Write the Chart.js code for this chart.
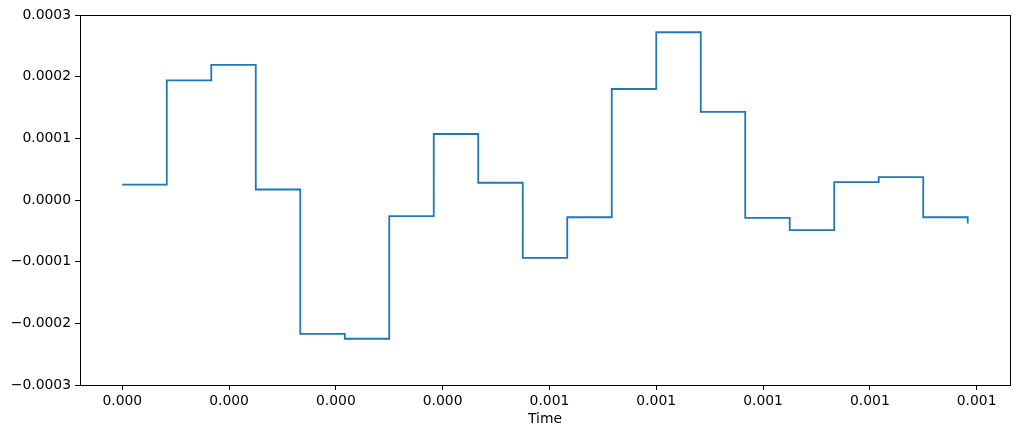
<!DOCTYPE html>
<html>
<head>
<meta charset="utf-8">
<script src="https://cdn.jsdelivr.net/npm/chart.js@4/dist/chart.umd.min.js"></script>
<style>
  body { margin: 0; background: #fff; }
  canvas { display: block; }
</style>
</head>
<body>
<canvas id="stepChart" width="1019" height="438"></canvas>
<script>
// sample times (s) and signal values
const times = [0, 0.0000625, 0.000125, 0.0001875, 0.00025, 0.0003125, 0.000375, 0.0004375,
  0.0005, 0.0005625, 0.000625, 0.0006875, 0.00075, 0.0008125, 0.000875, 0.0009375,
  0.001, 0.0010625, 0.001125, 0.0011875];
const values = [0.000025, 0.000194, 0.000219, 0.000017, -0.000217, -0.000225, -0.000026, 0.000107,
  0.000028, -0.000094, -0.000028, 0.000180, 0.000272, 0.000143, -0.000029, -0.000049,
  0.000029, 0.000037, -0.000028, -0.000038];

const xTickValues = [0, 0.00015, 0.0003, 0.00045, 0.0006, 0.00075, 0.0009, 0.00105, 0.0012];
const xTickLabels = ['0.000', '0.000', '0.000', '0.000', '0.001', '0.001', '0.001', '0.001', '0.001'];
const yTickValues = [-0.0003, -0.0002, -0.0001, 0, 0.0001, 0.0002, 0.0003];
const yTickLabels = ['\u22120.0003', '\u22120.0002', '\u22120.0001', '0.0000', '0.0001', '0.0002', '0.0003'];

const FONT = { family: 'DejaVu Sans', size: 13.9 };

// matplotlib-style box around the plot area
const frame = {
  id: 'frame',
  afterDraw(chart) {
    const a = chart.chartArea;
    const c = chart.ctx;
    c.save();
    c.strokeStyle = '#000';
    c.lineWidth = 1;
    c.strokeRect(Math.round(a.left) + 0.5, Math.round(a.top) + 0.5,
      Math.round(a.right - a.left), Math.round(a.bottom - a.top));
    c.restore();
  }
};

const span = times[times.length - 1] - times[0];

const ctx = document.getElementById('stepChart').getContext('2d');
new Chart(ctx, {
  type: 'line',
  data: {
    datasets: [{
      data: times.map((t, i) => ({ x: t, y: values[i] })),
      borderColor: '#1f77b4',
      borderWidth: 1.8,
      pointRadius: 0,
      stepped: 'before',
      fill: false
    }]
  },
  options: {
    responsive: false,
    animation: false,
    layout: { padding: { left: 0, right: 9, top: 15, bottom: 0 } },
    plugins: { legend: { display: false }, tooltip: { enabled: false } },
    scales: {
      x: {
        type: 'linear',
        min: times[0] - 0.05 * span,
        max: times[times.length - 1] + 0.05 * span,
        afterBuildTicks: s => { s.ticks = xTickValues.map(v => ({ value: v })); },
        afterFit: s => { s.height = 53; },
        ticks: {
          callback: (v, i) => xTickLabels[i],
          font: FONT, color: '#000', padding: 3, maxRotation: 0, autoSkip: false
        },
        grid: { drawOnChartArea: false, drawTicks: true, tickLength: 5, color: '#000', tickColor: '#000' },
        border: { display: true, color: '#000', width: 1 },
        title: { display: true, text: 'Time', font: FONT, color: '#000', padding: { top: 0, bottom: 10 } }
      },
      y: {
        min: -0.0003,
        max: 0.0003,
        afterBuildTicks: s => { s.ticks = yTickValues.map(v => ({ value: v })); },
        afterFit: s => { s.width = 80; },
        ticks: {
          callback: (v, i) => yTickLabels[i],
          font: FONT, color: '#000', padding: 4
        },
        grid: { drawOnChartArea: false, drawTicks: true, tickLength: 5, color: '#000', tickColor: '#000' },
        border: { display: true, color: '#000', width: 1 }
      }
    }
  },
  plugins: [frame]
});
</script>
</body>
</html>
